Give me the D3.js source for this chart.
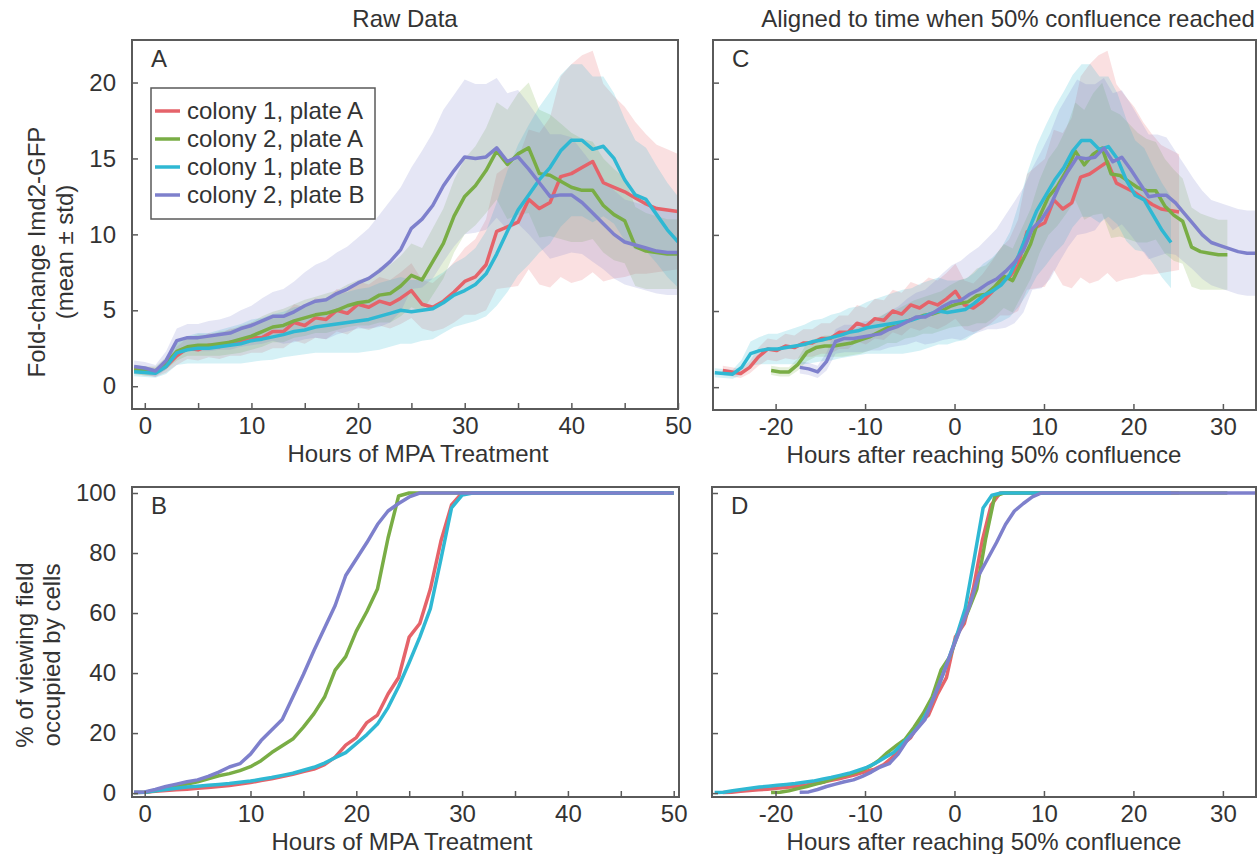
<!DOCTYPE html>
<html>
<head>
<meta charset="utf-8">
<script src="https://cdn.jsdelivr.net/npm/d3@7"></script>
<style>
  body { margin: 0; background: #fff; }
  svg text { font-family: "Liberation Sans", Arial, sans-serif; fill: #333; }
</style>
</head>
<body>
<svg id="fig" width="1257" height="854"></svg>
<script>
// ---- data (one value per hour, -1 .. 50 h) ----
const hours = [-1,0,1,2,3,4,5,6,7,8,9,10,11,12,13,14,15,16,17,18,19,20,21,22,23,24,25,
  26,27,28,29,30,31,32,33,34,35,36,37,38,39,40,41,42,43,44,45,46,47,48,49,50];

const seriesNames = ['colony 1, plate A', 'colony 2, plate A', 'colony 1, plate B', 'colony 2, plate B'];

// Fold-change Imd2-GFP, mean
const gfpMeanC1A = [1.1,1.0,0.9,1.3,2.0,2.5,2.4,2.7,2.6,2.9,2.9,3.2,3.2,3.6,3.6,4.2,4.0,4.5,4.4,5.0,4.8,5.4,5.2,5.6,5.4,5.8,6.3,
  5.4,5.2,5.6,6.2,6.9,7.2,8.0,10.2,10.5,10.8,12.3,11.7,12.1,13.8,14.0,14.4,14.8,13.4,13.1,12.8,12.4,12.0,11.7,11.6,11.5];
const gfpMeanC2A = [1.1,1.0,1.0,1.5,2.3,2.6,2.7,2.7,2.8,2.9,3.1,3.3,3.6,3.9,4.0,4.3,4.5,4.7,4.8,5.0,5.3,5.5,5.6,6.0,6.1,6.6,7.3,
  7.0,8.2,9.4,11.2,12.5,13.2,14.2,15.5,14.6,15.3,15.7,14.0,13.9,13.5,13.1,12.9,12.9,11.9,11.3,10.9,9.2,8.9,8.8,8.7,8.7];
const gfpMeanC1B = [0.95,0.9,0.85,1.3,2.2,2.4,2.5,2.5,2.6,2.7,2.8,3.0,3.1,3.25,3.4,3.6,3.7,3.9,4.0,4.1,4.2,4.3,4.4,4.6,4.8,5.0,4.9,
  5.0,5.1,5.5,6.0,6.3,6.7,7.4,8.7,10.2,11.6,12.6,13.6,14.4,15.5,16.2,16.2,15.6,15.8,15.0,13.6,12.6,12.3,11.3,10.3,9.5];
const gfpMeanC2B = [1.3,1.2,1.0,1.7,3.0,3.2,3.2,3.3,3.4,3.5,3.8,4.0,4.3,4.6,4.6,4.9,5.3,5.6,5.7,6.1,6.4,6.8,7.1,7.6,8.2,9.0,10.4,
  11.0,11.9,13.2,14.2,15.1,15.0,15.1,15.7,14.8,15.1,14.3,13.4,12.5,12.6,12.6,12.1,11.4,10.7,10.0,9.5,9.3,9.1,8.9,8.8,8.8];

// Fold-change Imd2-GFP, std
const gfpStdC1A = [0.3,0.3,0.3,0.4,0.6,0.7,0.7,0.8,0.8,0.9,0.9,1.0,1.0,1.1,1.1,1.2,1.2,1.3,1.3,1.4,1.4,1.5,1.5,1.6,1.6,1.7,1.8,
  1.6,1.6,1.8,2.0,2.2,2.5,3.0,3.8,4.0,4.2,4.6,5.0,5.6,6.6,7.2,7.4,7.3,6.5,6.0,5.6,5.0,4.6,4.2,4.0,3.8];
const gfpStdC2A = [0.3,0.3,0.3,0.4,0.6,0.6,0.7,0.7,0.8,0.8,0.9,0.9,1.0,1.0,1.1,1.1,1.2,1.2,1.3,1.3,1.4,1.5,1.6,1.8,1.9,2.0,2.1,
  2.1,2.2,2.3,2.4,2.5,2.6,2.8,3.2,3.6,4.0,4.3,4.2,4.0,3.8,3.6,3.4,3.2,3.1,3.0,2.8,2.6,2.5,2.4,2.3,2.3];
const gfpStdC1B = [0.3,0.3,0.3,0.5,0.8,0.9,1.0,1.0,1.1,1.2,1.3,1.4,1.4,1.5,1.5,1.6,1.6,1.7,1.8,1.9,2.0,2.1,2.1,2.2,2.2,2.2,2.1,
  2.0,2.0,2.0,2.1,2.2,2.4,2.8,3.4,4.0,4.3,4.6,4.8,5.0,5.0,5.0,5.0,4.8,4.6,4.3,4.0,3.6,3.4,3.2,3.1,3.0];
const gfpStdC2B = [0.4,0.4,0.4,0.6,0.8,0.9,0.9,1.0,1.0,1.1,1.2,1.3,1.5,1.6,1.8,2.0,2.2,2.4,2.6,2.7,2.8,3.0,3.3,3.7,4.0,4.1,4.0,
  4.5,4.8,5.0,5.0,5.1,4.9,4.8,4.6,4.5,4.4,4.3,4.2,4.1,4.0,3.8,3.4,3.2,3.0,2.9,2.8,2.8,2.8,2.8,2.8,2.8];

// % of viewing field occupied by cells
const confC1A = [0.2,0.3,0.6,0.9,1.1,1.3,1.6,1.9,2.2,2.5,3.0,3.5,4.2,4.8,5.5,6.3,7.2,8.0,9.5,12.0,16.0,18.5,23.5,26.0,33.0,38.5,52.0,
  56.5,68.0,84.0,96.0,100,100,100,100,100,100,100,100,100,100,100,100,100,100,100,100,100,100,100,100,100];
const confC2A = [0.2,0.3,0.8,1.5,2.2,3.0,3.8,4.8,5.8,6.5,7.5,8.8,10.8,13.5,15.8,18.0,22.0,26.5,32.0,41.0,45.5,54.0,60.5,68.0,85.0,99.0,100,
  100,100,100,100,100,100,100,100,100,100,100,100,100,100,100,100,100,100,100,100,100,100,100,100,100];
const confC1B = [0.2,0.3,0.8,1.2,1.6,2.0,2.3,2.6,2.9,3.2,3.6,4.0,4.6,5.2,5.9,6.6,7.6,8.6,10.0,11.8,13.5,16.5,19.5,23.0,28.5,35.5,43.5,
  52.0,61.5,78.0,95.0,99.3,100,100,100,100,100,100,100,100,100,100,100,100,100,100,100,100,100,100,100,100];
const confC2B = [0.3,0.4,1.2,2.2,3.0,3.8,4.4,5.6,7.0,8.7,9.8,13.0,17.5,21.0,24.5,32.0,39.5,47.5,55.0,62.5,72.5,78.0,83.5,89.5,94.0,96.5,98.7,
  100,100,100,100,100,100,100,100,100,100,100,100,100,100,100,100,100,100,100,100,100,100,100,100,100];

// hour at which each colony reached 50% confluence (used for panels C and D)
const hourAt50 = [24.9, 19.5, 25.8, 16.3];

// ---- styling ----
const lineColors = ['#e5636a', '#79ad45', '#2fb8d3', '#7e80cc'];
const axisColor = '#5a5a5a';

const gfpMeans = [gfpMeanC1A, gfpMeanC2A, gfpMeanC1B, gfpMeanC2B];
const gfpStds = [gfpStdC1A, gfpStdC2A, gfpStdC1B, gfpStdC2B];
const confluence = [confC1A, confC2A, confC1B, confC2B];

const svg = d3.select('#fig');

function drawPanel(p) {
  const x = d3.scaleLinear().domain(p.xDomain).range([p.left, p.right]);
  const y = d3.scaleLinear().domain(p.yDomain).range([p.bottom, p.top]);
  const g = svg.append('g');

  const clipId = 'clip-' + p.letter;
  svg.append('clipPath').attr('id', clipId)
    .append('rect')
    .attr('x', p.left).attr('y', p.top)
    .attr('width', p.right - p.left).attr('height', p.bottom - p.top);

  const plot = g.append('g').attr('clip-path', `url(#${clipId})`);

  // shaded mean ± std bands
  if (p.stds) {
    p.values.forEach((vals, i) => {
      const pts = hours.map((h, k) => ({ t: h - p.shift[i], m: vals[k], s: p.stds[i][k] }));
      const area = d3.area()
        .x(d => x(d.t))
        .y0(d => y(d.m - d.s))
        .y1(d => y(d.m + d.s));
      plot.append('path')
        .datum(pts)
        .attr('fill', lineColors[i])
        .attr('fill-opacity', 0.2)
        .attr('d', area);
    });
  }

  // mean lines
  p.values.forEach((vals, i) => {
    const pts = hours.map((h, k) => ({ t: h - p.shift[i], v: vals[k] }));
    const line = d3.line().x(d => x(d.t)).y(d => y(d.v));
    plot.append('path')
      .datum(pts)
      .attr('fill', 'none')
      .attr('stroke', lineColors[i])
      .attr('stroke-width', 3.5)
      .attr('stroke-linejoin', 'round')
      .attr('d', line);
  });

  // axes, ticks pointing inward
  const xAxis = d3.axisBottom(x)
    .tickValues(p.xTicks)
    .tickSizeInner(-6).tickSizeOuter(0).tickPadding(8)
    .tickFormat(d => (p.xLabelEvery && d % p.xLabelEvery === 0) ? d : '');
  const gx = g.append('g')
    .attr('transform', `translate(0,${p.bottom})`)
    .call(xAxis);

  const yAxis = d3.axisLeft(y)
    .tickValues(p.yTicks)
    .tickSizeInner(-6).tickSizeOuter(0).tickPadding(16)
    .tickFormat(d => p.yLabels ? d : '');
  const gy = g.append('g')
    .attr('transform', `translate(${p.left},0)`)
    .call(yAxis);

  [gx, gy].forEach(a => {
    a.select('.domain').remove();
    a.selectAll('.tick line').attr('stroke', axisColor).attr('stroke-width', 1.5);
    a.selectAll('.tick text')
      .style('font-family', '"Liberation Sans", Arial, sans-serif')
      .style('font-size', '24px')
      .attr('fill', '#333');
  });

  // frame
  g.append('rect')
    .attr('x', p.left).attr('y', p.top)
    .attr('width', p.right - p.left).attr('height', p.bottom - p.top)
    .attr('fill', 'none')
    .attr('stroke', axisColor)
    .attr('stroke-width', 2);

  // panel letter
  g.append('text')
    .attr('x', p.left + 19).attr('y', p.top + 27)
    .style('font-size', '24px')
    .text(p.letter);

  // x axis title
  g.append('text')
    .attr('x', p.xTitleX).attr('y', p.bottom + 53)
    .attr('text-anchor', 'middle')
    .style('font-size', '24px')
    .text(p.xTitle);

  return { x, y, g };
}

const noShift = [0, 0, 0, 0];

// A: raw fold-change
drawPanel({
  letter: 'A', left: 132, right: 678, top: 40, bottom: 409,
  xDomain: [-1.2, 50], yDomain: [-1.5, 22.8],
  values: gfpMeans, stds: gfpStds, shift: noShift,
  xTicks: [0,5,10,15,20,25,30,35,40,45,50], xLabelEvery: 10,
  yTicks: [0,5,10,15,20], yLabels: true,
  xTitle: 'Hours of MPA Treatment', xTitleX: 418
});

// B: raw confluence
drawPanel({
  letter: 'B', left: 132, right: 679, top: 487, bottom: 797,
  xDomain: [-1.2, 50.5], yDomain: [-1.3, 102],
  values: confluence, stds: null, shift: noShift,
  xTicks: [0,5,10,15,20,25,30,35,40,45,50], xLabelEvery: 10,
  yTicks: [0,20,40,60,80,100], yLabels: true,
  xTitle: 'Hours of MPA Treatment', xTitleX: 402
});

// C: fold-change aligned at 50% confluence
drawPanel({
  letter: 'C', left: 713, right: 1256, top: 40, bottom: 410,
  xDomain: [-27, 33.7], yDomain: [-1.5, 22.8],
  values: gfpMeans, stds: gfpStds, shift: hourAt50,
  xTicks: [-20,-10,0,10,20,30], xLabelEvery: 10,
  yTicks: [0,5,10,15,20], yLabels: false,
  xTitle: 'Hours after reaching 50% confluence', xTitleX: 984
});

// D: confluence aligned at 50% confluence
drawPanel({
  letter: 'D', left: 712, right: 1256, top: 487, bottom: 797,
  xDomain: [-27.1, 33.7], yDomain: [-1.3, 102],
  values: confluence, stds: null, shift: hourAt50,
  xTicks: [-20,-10,0,10,20,30], xLabelEvery: 10,
  yTicks: [0,20,40,60,80,100], yLabels: false,
  xTitle: 'Hours after reaching 50% confluence', xTitleX: 984
});

// column titles
svg.append('text').attr('x', 405).attr('y', 27)
  .attr('text-anchor', 'middle').style('font-size', '24px').text('Raw Data');
svg.append('text').attr('x', 1008).attr('y', 27)
  .attr('text-anchor', 'middle').style('font-size', '24px')
  .text('Aligned to time when 50% confluence reached');

// y axis titles
function yTitle(lines, cy) {
  lines.forEach(l => {
    svg.append('text')
      .attr('transform', `translate(${l.x},${cy}) rotate(-90)`)
      .attr('text-anchor', 'middle')
      .style('font-size', '24px')
      .text(l.text);
  });
}
yTitle([{ text: 'Fold-change Imd2-GFP', x: 45 }, { text: '(mean \u00b1 std)', x: 73 }], 252);
yTitle([{ text: '% of viewing field', x: 33 }, { text: 'occupied by cells', x: 60 }], 655);

// legend in panel A
const legend = svg.append('g');
legend.append('rect')
  .attr('x', 151).attr('y', 88).attr('width', 224).attr('height', 131)
  .attr('fill', '#fff').attr('stroke', axisColor).attr('stroke-width', 1.5);
seriesNames.forEach((name, i) => {
  const yy = 111 + i * 28;
  legend.append('line')
    .attr('x1', 155).attr('x2', 180).attr('y1', yy).attr('y2', yy)
    .attr('stroke', lineColors[i]).attr('stroke-width', 3.5);
  legend.append('text')
    .attr('x', 187).attr('y', yy + 8)
    .style('font-size', '24px')
    .text(name);
});
</script>
</body>
</html>
